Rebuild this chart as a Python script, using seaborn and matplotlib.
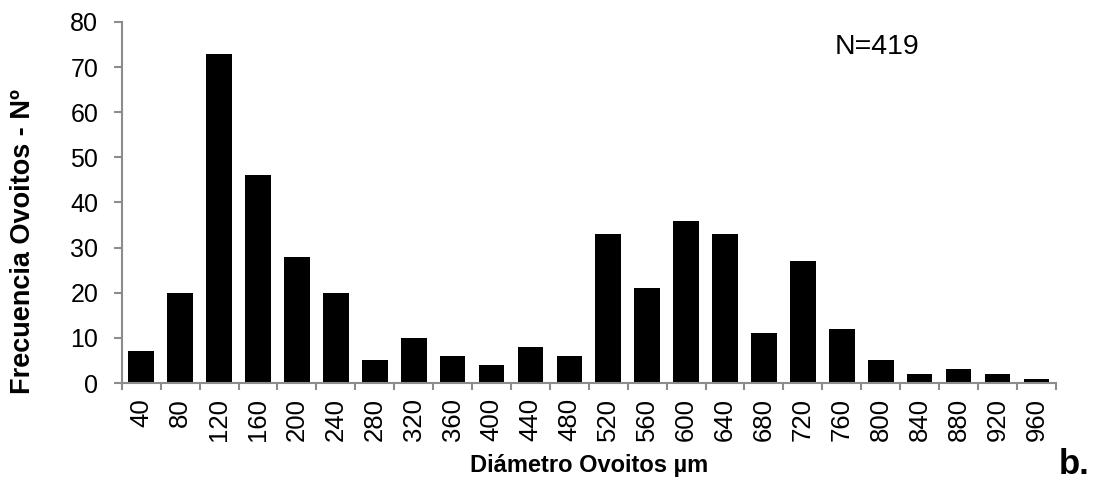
import matplotlib
matplotlib.use("Agg")
import matplotlib.pyplot as plt
import seaborn as sns
import pandas as pd
import numpy as np

diametros = [40, 80, 120, 160, 200, 240, 280, 320, 360, 400, 440, 480,
             520, 560, 600, 640, 680, 720, 760, 800, 840, 880, 920, 960]
frecuencia = [7, 20, 73, 46, 28, 20, 5, 10, 6, 4, 8, 6,
              33, 21, 36, 33, 11, 27, 12, 5, 2, 3, 2, 1]
etiquetas = [str(d) for d in diametros]

sns.set_theme(style="white")
plt.rcParams['font.family'] = ['Liberation Sans', 'DejaVu Sans']
plt.rcParams['text.color'] = 'black'
plt.rcParams['axes.labelcolor'] = 'black'
plt.rcParams['xtick.color'] = 'black'
plt.rcParams['ytick.color'] = 'black'

df = pd.DataFrame({"diametro": etiquetas, "n": frecuencia})

fig = plt.figure(figsize=(10.97, 4.83), dpi=100)
ax = fig.add_axes([0.111, 0.207, 0.8515, 0.7475])

sns.barplot(data=df, x="diametro", y="n", order=etiquetas, color="black",
            width=0.66, saturation=1, ax=ax, edgecolor="black", linewidth=0)

ax.set_xlim(-0.5, len(etiquetas) - 0.5)
ax.set_ylim(0, 80)
ax.set_yticks(range(0, 81, 10))

grey = "#8c8c8c"
for s in ["top", "right"]:
    ax.spines[s].set_visible(False)
for s in ["left", "bottom"]:
    ax.spines[s].set_color(grey)
    ax.spines[s].set_linewidth(1.5)

# category boundaries carry the tick marks; labels sit at bar centres
ax.set_xticks(np.arange(-0.5, len(etiquetas), 1.0), minor=True)
ax.tick_params(axis="x", which="major", length=0, pad=11, labelsize=18.5,
               labelrotation=90, labelcolor="black")
ax.tick_params(axis="x", which="minor", length=5, width=1.5, color=grey,
               direction="out", bottom=True)
ax.tick_params(axis="y", which="major", length=6, width=1.5, color=grey,
               direction="out", left=True, labelsize=18, labelcolor="black", pad=11)

ax.set_xlabel("Diámetro Ovoitos µm", fontsize=17, fontweight="bold", color="black")
ax.xaxis.set_label_coords(0.5, 1 - (465 - 22) / 361)
ax.xaxis.label.set_va("center")
ax.set_ylabel("")

fig.text(23 / 1097, 1 - 241 / 483, "Frecuencia Ovoitos - Nº", fontsize=19.5,
         fontweight="bold", rotation=90, ha="center", va="center", color="black")
fig.text(1074 / 1097, 1 - 465 / 483, "b.", fontsize=25, fontweight="bold",
         ha="center", va="center", color="black")
fig.text(877 / 1097, 1 - 47 / 483, "N=419", fontsize=20.5,
         ha="center", va="center", color="black")

fig.savefig("out.png", dpi=100)
